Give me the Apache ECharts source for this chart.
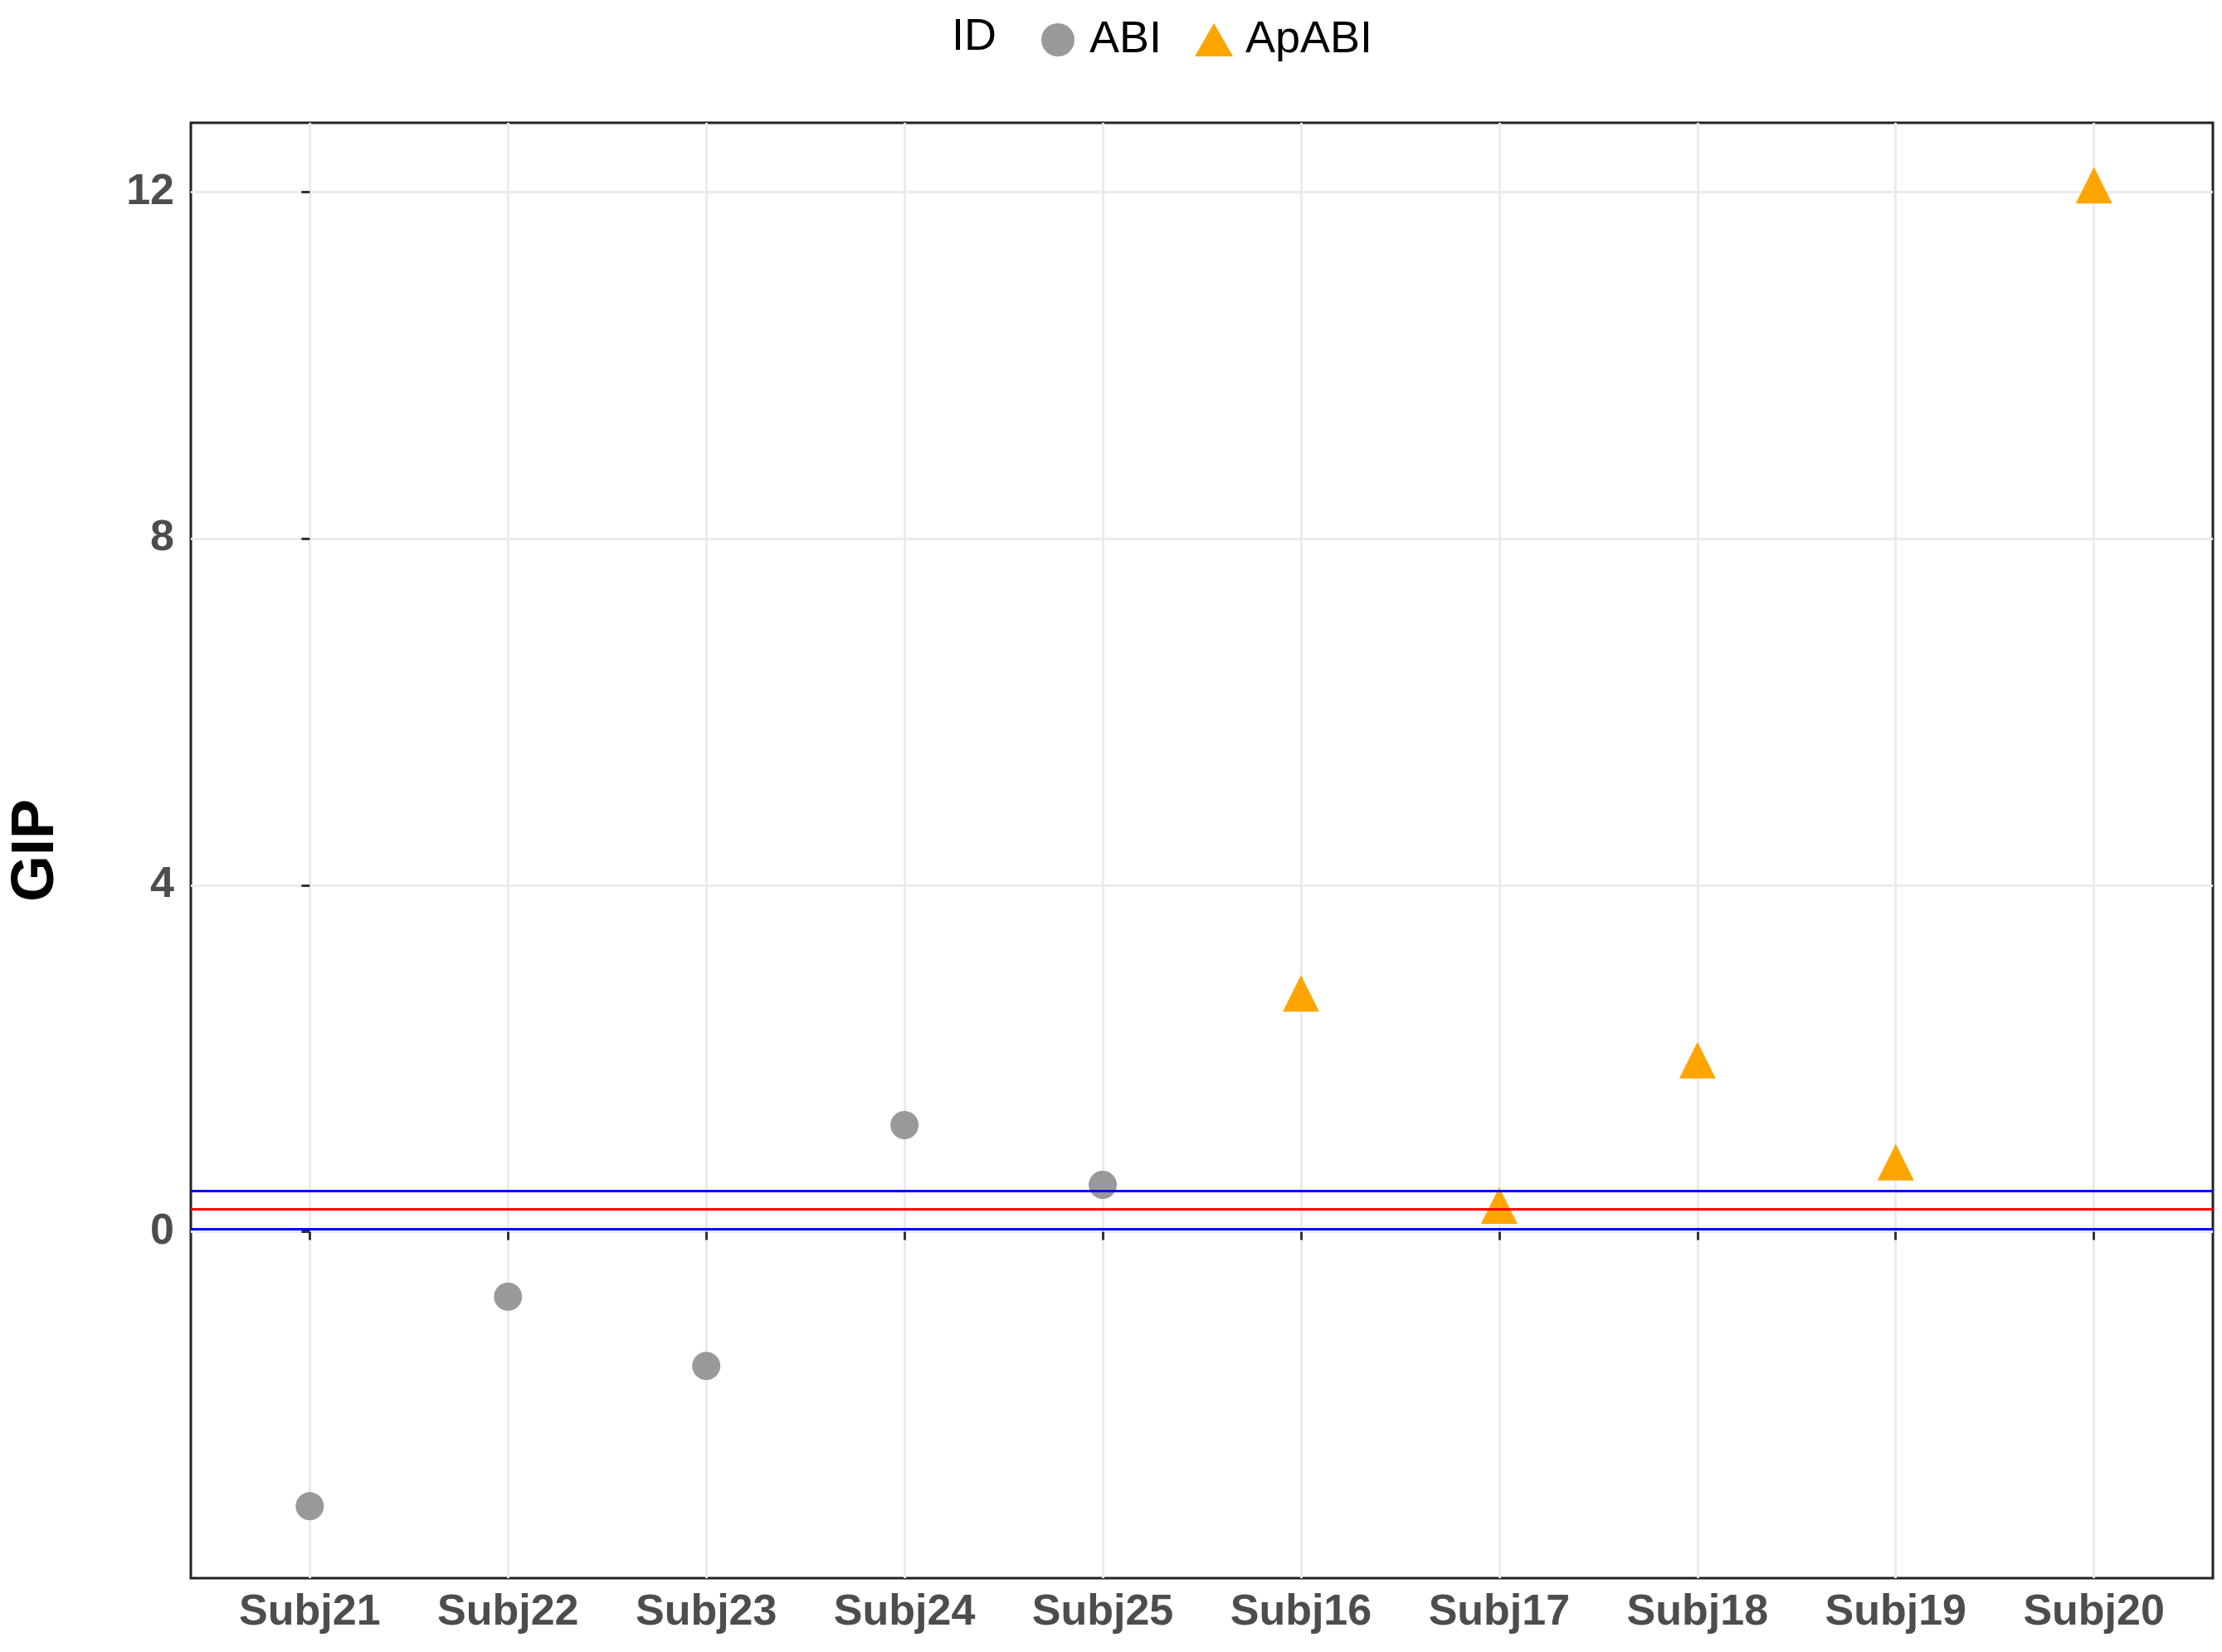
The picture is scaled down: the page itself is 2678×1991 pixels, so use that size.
<!DOCTYPE html>
<html>
<head>
<meta charset="utf-8">
<script src="https://cdn.jsdelivr.net/npm/echarts@6/dist/echarts.min.js"></script>
<style>html,body{margin:0;padding:0;background:#fff}#chart{width:2678px;height:1991px}</style>
</head>
<body>
<div id="chart"></div>
<script>
var subjects = ['Subj21','Subj22','Subj23','Subj24','Subj25','Subj16','Subj17','Subj18','Subj19','Subj20'];
var abiValues = [-3.17, -0.75, -1.55, 1.23, 0.54, null, null, null, null, null];
var apabiValues = [null, null, null, null, null, 2.75, 0.30, 1.98, 0.80, 12.08];
var refLines = [{value: 0.47, color: '#0000ff'}, {value: 0.26, color: '#ff0000'}, {value: 0.03, color: '#0000ff'}];
var yTicks = [0, 4, 8, 12];

function pairs(vals) {
  var out = [];
  vals.forEach(function (v, i) { if (v !== null) out.push([i, v]); });
  return out;
}
var xIdx = subjects.map(function (s, i) { return i; });

var myChart = echarts.init(document.getElementById('chart'));
var option = {
  animation: false,
  textStyle: {fontFamily: 'Liberation Sans'},
  graphic: [{
    type: 'text', left: 1147, top: 18,
    style: {text: 'ID', fontSize: 54, fill: '#000', fontFamily: 'Liberation Sans'}
  }],
  legend: {
    left: 1250, top: 16,
    itemGap: 40, itemWidth: 46, itemHeight: 40,
    textStyle: {fontSize: 54, color: '#000', padding: [0, 0, 0, 10]},
    data: ['ABI', 'ApABI']
  },
  grid: {
    left: 220, right: 11, top: 148, bottom: 89,
    show: true, borderColor: '#222', borderWidth: 3
  },
  xAxis: {
    type: 'value',
    min: -0.6, max: 9.6,
    axisLine: {show: false},
    splitLine: {show: false},
    axisTick: {show: true, length: 10, lineStyle: {color: '#333', width: 3}, customValues: xIdx},
    axisLabel: {fontSize: 52, fontWeight: 'bold', color: '#4d4d4d', margin: 16,
      customValues: xIdx,
      formatter: function (v) { return subjects[Math.round(v)]; }}
  },
  yAxis: {
    type: 'value',
    min: -4, max: 12.8, interval: 2,
    name: 'GIP', nameLocation: 'middle', nameGap: 150,
    nameTextStyle: {fontSize: 72, fontWeight: 'bold', color: '#000'},
    axisLine: {show: false},
    axisTick: {show: true, length: 10, lineStyle: {color: '#333', width: 3}, customValues: yTicks},
    axisLabel: {fontSize: 52, fontWeight: 'bold', color: '#4d4d4d', margin: 20,
      showMaxLabel: true, customValues: yTicks},
    splitLine: {lineStyle: {color: '#ebebeb', width: 3}}
  },
  series: [
    {
      name: 'grid', type: 'scatter', data: [], silent: true,
      markLine: {
        silent: true, symbol: 'none', label: {show: false}, z: 0,
        data: xIdx.map(function (i) {
          return {xAxis: i, lineStyle: {color: '#ebebeb', width: 3, type: 'solid'}};
        })
      }
    },
    {
      name: 'ABI', type: 'scatter', symbol: 'circle', symbolSize: 34,
      itemStyle: {color: '#999999', opacity: 1},
      data: pairs(abiValues),
      markLine: {
        silent: true, symbol: 'none', label: {show: false},
        data: refLines.map(function (l) {
          return {yAxis: l.value, lineStyle: {color: l.color, width: 3, type: 'solid'}};
        })
      }
    },
    {
      name: 'ApABI', type: 'scatter', symbol: 'triangle', symbolSize: 44,
      itemStyle: {color: '#ffa500', opacity: 1},
      data: pairs(apabiValues)
    }
  ]
};
myChart.setOption(option);
</script>
</body>
</html>
